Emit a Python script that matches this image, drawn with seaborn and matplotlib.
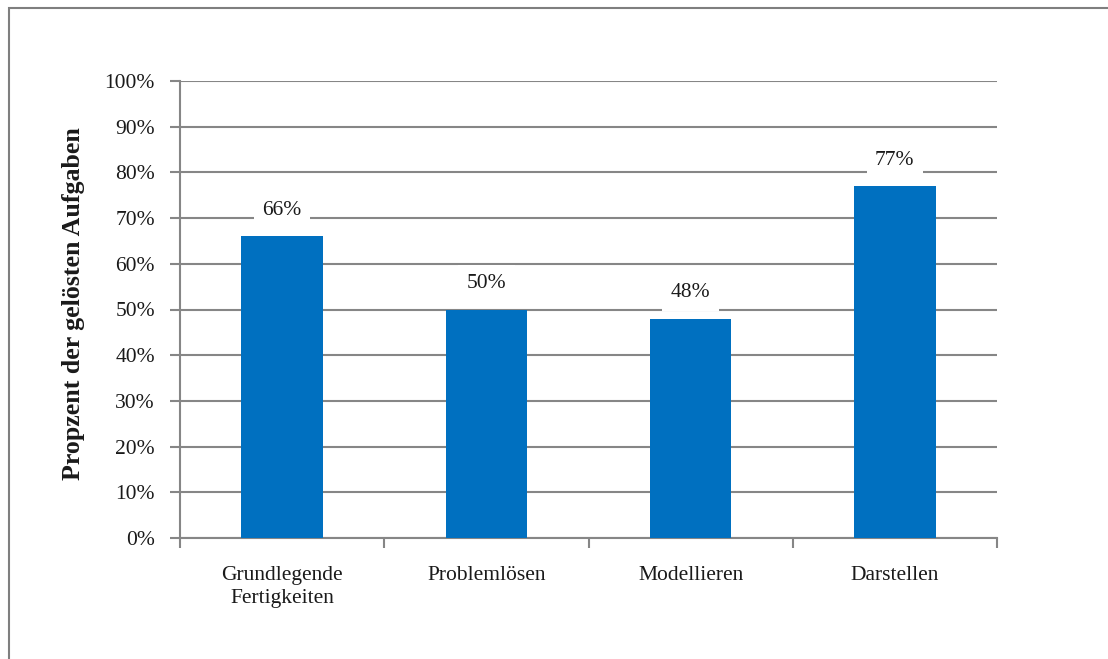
import matplotlib
matplotlib.use("Agg")
import matplotlib.pyplot as plt
import seaborn as sns
import pandas as pd
from matplotlib.patches import Rectangle
from matplotlib.ticker import MultipleLocator, FuncFormatter

categories = ["Grundlegende\nFertigkeiten", "Problemlösen", "Modellieren", "Darstellen"]
values = [66, 50, 48, 77]
y_label = "Propzent der gelösten Aufgaben"

sns.set_theme(style="white")
plt.rcParams["font.family"] = ["Liberation Serif", "DejaVu Serif"]

bar_color = "#0070C0"
grid_color = "#868686"
text_color = "#1a1a1a"
fs = 15.5

fig = plt.figure(figsize=(11.08, 6.59), dpi=100)
ax = fig.add_axes([180 / 1108, 1 - 538 / 659, (997 - 180) / 1108, (538 - 81) / 659])

df = pd.DataFrame({"Kategorie": categories, "Wert": values})
sns.barplot(data=df, x="Kategorie", y="Wert", color=bar_color, width=0.4,
            saturation=1, linewidth=0, ax=ax, zorder=3)

ax.set_ylim(0, 100)
ax.set_xlim(-0.5, len(categories) - 0.5)
ax.yaxis.set_major_locator(MultipleLocator(10))
ax.yaxis.set_major_formatter(FuncFormatter(lambda v, p: f"{v:.0f}%"))
ax.grid(axis="y", color=grid_color, linewidth=1.5, zorder=0)
ax.set_axisbelow(True)

for side in ["top", "right"]:
    ax.spines[side].set_visible(False)
for side in ["left", "bottom"]:
    ax.spines[side].set_color(grid_color)
    ax.spines[side].set_linewidth(1.5)

# y ticks outward, x ticks at category boundaries
ax.tick_params(axis="y", which="major", direction="out", length=7, width=1.5,
               color=grid_color, left=True, labelsize=fs, pad=11, labelcolor=text_color)
ax.set_xticks(range(len(categories)))
ax.set_xticklabels(categories, fontsize=fs, color=text_color, linespacing=1.3)
ax.tick_params(axis="x", which="major", length=0, pad=20)
ax.set_xticks([i - 0.5 for i in range(len(categories) + 1)], minor=True)
ax.tick_params(axis="x", which="minor", direction="out", length=7, width=1.5,
               color=grid_color, bottom=True)

ax.set_xlabel("")
ax.set_ylabel(y_label, fontsize=18.6, fontweight="bold", color=text_color, labelpad=14)
ax.yaxis.label.set_y(0.513)

for i, v in enumerate(values):
    ax.annotate(f"{v}%", xy=(i, v), xytext=(0, 26), textcoords="offset pixels",
                ha="center", va="center", fontsize=fs, color=text_color, zorder=4,
                bbox=dict(boxstyle="square,pad=0.4", facecolor="white", edgecolor="none"))

# frame around the figure
fig.patches.append(Rectangle((9 / 1108, -0.5), 1.2, 1.5 - 8 / 659, transform=fig.transFigure,
                             fill=False, edgecolor="#7f7f7f", linewidth=1.5))

fig.savefig("out.png", dpi=100, facecolor="white")
